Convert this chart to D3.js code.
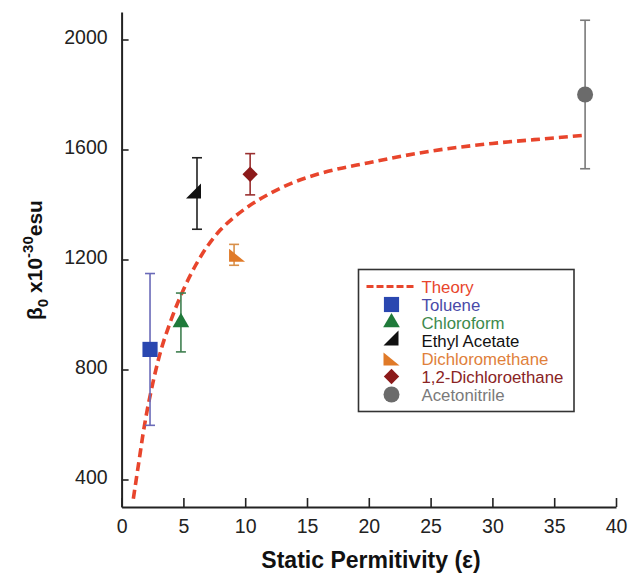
<!DOCTYPE html>
<html>
<head>
<meta charset="utf-8">
<script src="https://cdn.jsdelivr.net/npm/d3@7"></script>
<style>
  body { margin: 0; background: #fff; }
  text { font-family: "Liberation Sans", Arial, sans-serif; }
</style>
</head>
<body>
<script>
const solvents = ["Toluene", "Chloroform", "Ethyl Acetate", "Dichloromethane", "1,2-Dichloroethane", "Acetonitrile"];
const permittivity = [2.3, 4.8, 6.1, 9.1, 10.4, 37.5];
const beta = [873, 971, 1440, 1217, 1510, 1800];
const betaErr = [276, 107, 130, 38, 75, 270];

// Theory curve
const theoryEps = [0.95, 1.25, 1.5, 1.75, 2.0, 2.5, 3.0, 4.0, 5.0, 6.0, 7.0, 8.0, 9.0, 10.0, 12.0, 14.0, 16.0, 20.0, 25.0, 30.0, 35.0, 37.5];
const theoryBeta = [330, 420, 495, 570, 635, 745, 840, 980, 1090, 1180, 1252, 1308, 1350, 1385, 1440, 1482, 1512, 1552, 1594, 1622, 1642, 1652];

const xTicks = [0, 5, 10, 15, 20, 25, 30, 35, 40];
const yTicks = [400, 800, 1200, 1600, 2000];

const fillColors = ["#2a47b0", "#1f7a3a", "#111111", "#e07a28", "#8c1a1a", "#6b6b6b"];
const barColors = ["#6a6ab8", "#3f7f50", "#222222", "#d9904a", "#9a3030", "#7a7a7a"];
const textColors = ["#4a4aa8", "#3d8a4d", "#111111", "#e0803a", "#8a2424", "#7a7a7a"];
const theoryColor = "#e8452c";

const width = 629, height = 576;
const svg = d3.select("body").append("svg")
  .attr("width", width)
  .attr("height", height);

const x = d3.scaleLinear().domain([0, 40]).range([121.6, 616]);
const y = d3.scaleLinear().domain([300, 2100]).range([507, 12]);

// marker shapes, centred on the data point
const shapes = {
  "Toluene": () => d3.symbol(d3.symbolSquare, 230)(),
  "Chloroform": () => d3.symbol(d3.symbolTriangle, 120)(),
  "Ethyl Acetate": () => "M-11,5L4,5L4,-10Z",
  "Dichloromethane": () => "M-5,-6L-5,7L11,7Z",
  "1,2-Dichloroethane": () => d3.symbol(d3.symbolDiamond2, 150)(),
  "Acetonitrile": () => d3.symbol(d3.symbolCircle, 200)()
};

// axes
const xAxis = svg.append("g")
  .attr("transform", `translate(0,${y.range()[0]})`)
  .call(d3.axisBottom(x).tickValues(xTicks).tickFormat(d3.format("d"))
    .tickSizeInner(-9).tickSizeOuter(0).tickPadding(22));
const yAxis = svg.append("g")
  .attr("transform", `translate(${x.range()[0]},0)`)
  .call(d3.axisLeft(y).tickValues(yTicks).tickFormat(d3.format("d"))
    .tickSizeInner(-7).tickSizeOuter(0).tickPadding(14));

[xAxis, yAxis].forEach(g => {
  g.select(".domain").attr("stroke", "#222").attr("stroke-width", 2);
  g.selectAll(".tick line").attr("stroke", "#222").attr("stroke-width", 1.6);
  g.selectAll(".tick text")
    .attr("fill", "#222")
    .style("font-size", "19.5px");
});
yAxis.selectAll(".tick text").attr("dy", "0.18em");
xAxis.selectAll(".tick text").attr("dy", "0.2em");

// theory line
const line = d3.line()
  .x((d, i) => x(theoryEps[i]))
  .y(d => y(d))
  .curve(d3.curveMonotoneX);

svg.append("path")
  .attr("d", line(theoryBeta))
  .attr("fill", "none")
  .attr("stroke", theoryColor)
  .attr("stroke-width", 3.6)
  .attr("stroke-dasharray", "9,5");

// error bars and markers
solvents.forEach((name, i) => {
  const cx = x(permittivity[i]);
  const top = y(beta[i] + betaErr[i]);
  const bot = y(beta[i] - betaErr[i]);
  const g = svg.append("g").attr("stroke", barColors[i]).attr("stroke-width", 1.6);
  g.append("line").attr("x1", cx).attr("x2", cx).attr("y1", top).attr("y2", bot);
  g.append("line").attr("x1", cx - 5).attr("x2", cx + 5).attr("y1", top).attr("y2", top);
  g.append("line").attr("x1", cx - 5).attr("x2", cx + 5).attr("y1", bot).attr("y2", bot);

  svg.append("path")
    .attr("d", shapes[name]())
    .attr("transform", `translate(${cx},${y(beta[i])})`)
    .attr("fill", fillColors[i]);
});

// legend
const legend = svg.append("g").attr("transform", "translate(358.5,269.5)");
legend.append("rect")
  .attr("width", 215.5).attr("height", 142)
  .attr("fill", "#fff")
  .attr("stroke", "#333").attr("stroke-width", 1.6);

const rowY = i => 17 + i * 18;
legend.append("line")
  .attr("x1", 8).attr("x2", 58)
  .attr("y1", rowY(0)).attr("y2", rowY(0))
  .attr("stroke", theoryColor).attr("stroke-width", 3.2)
  .attr("stroke-dasharray", "7,3");
legend.append("text")
  .attr("x", 63).attr("y", rowY(0)).attr("dy", "0.36em")
  .attr("fill", theoryColor)
  .style("font-size", "16.8px")
  .text("Theory");

solvents.forEach((name, i) => {
  const ry = rowY(i + 1);
  legend.append("path")
    .attr("d", shapes[name]())
    .attr("transform", `translate(${name === "Ethyl Acetate" ? 36 : name === "Dichloromethane" ? 30 : 33},${ry})`)
    .attr("fill", fillColors[i]);
  legend.append("text")
    .attr("x", 63).attr("y", ry).attr("dy", "0.36em")
    .attr("fill", textColors[i])
    .style("font-size", "16.8px")
    .text(name);
});

// axis titles
svg.append("text")
  .attr("x", 371).attr("y", 568)
  .attr("text-anchor", "middle")
  .attr("fill", "#111")
  .style("font-size", "23px")
  .style("font-weight", "bold")
  .text("Static Permitivity (ε)");

const yTitle = svg.append("text")
  .attr("transform", "translate(42,260) rotate(-90)")
  .attr("text-anchor", "middle")
  .attr("fill", "#111")
  .style("font-size", "21px")
  .style("font-weight", "bold");
yTitle.append("tspan").text("β");
yTitle.append("tspan").attr("dy", 6).style("font-size", "15px").text("0");
yTitle.append("tspan").attr("dy", -6).text(" x10");
yTitle.append("tspan").attr("dy", -9).style("font-size", "15px").text("-30");
yTitle.append("tspan").attr("dy", 9).text("esu");
</script>
</body>
</html>
